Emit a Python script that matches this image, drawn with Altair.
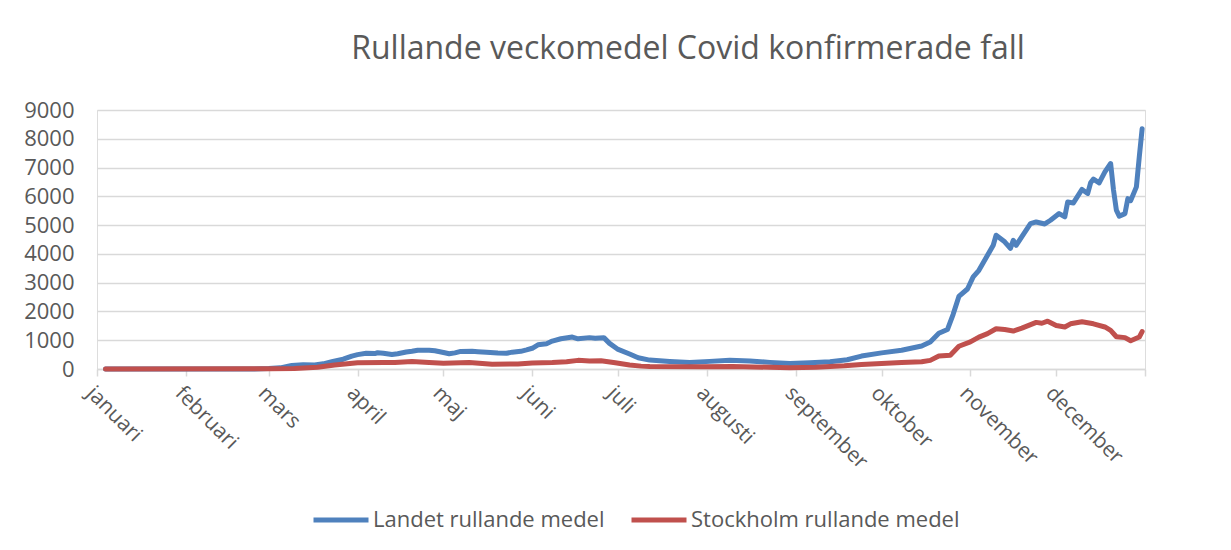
import altair as alt
import pandas as pd

# ---- data ----
months = ["januari", "februari", "mars", "april", "maj", "juni", "juli",
          "augusti", "september", "oktober", "november", "december"]

series_names = ["Landet rullande medel", "Stockholm rullande medel"]
series_colors = ["#4F81BD", "#C0504D"]

landet_dates = [
    "2020-01-04", "2020-02-01", "2020-02-25", "2020-03-01", "2020-03-05", "2020-03-09",
    "2020-03-13", "2020-03-17", "2020-03-20", "2020-03-23", "2020-03-27", "2020-03-30",
    "2020-04-01", "2020-04-04", "2020-04-07", "2020-04-08", "2020-04-10", "2020-04-13",
    "2020-04-15", "2020-04-18", "2020-04-20", "2020-04-22", "2020-04-26", "2020-04-28",
    "2020-05-01", "2020-05-03", "2020-05-05", "2020-05-07", "2020-05-11", "2020-05-13",
    "2020-05-16", "2020-05-20", "2020-05-23", "2020-05-25", "2020-05-28", "2020-05-30",
    "2020-06-01", "2020-06-03", "2020-06-06", "2020-06-08", "2020-06-11", "2020-06-15",
    "2020-06-17", "2020-06-21", "2020-06-23", "2020-06-26", "2020-06-28", "2020-07-01",
    "2020-07-05", "2020-07-08", "2020-07-12", "2020-07-19", "2020-07-26", "2020-08-02",
    "2020-08-09", "2020-08-16", "2020-08-23", "2020-08-30", "2020-09-06", "2020-09-13",
    "2020-09-19", "2020-09-24", "2020-10-01", "2020-10-08", "2020-10-15", "2020-10-18",
    "2020-10-21", "2020-10-24", "2020-10-26", "2020-10-28", "2020-10-31", "2020-11-02",
    "2020-11-04", "2020-11-07", "2020-11-09", "2020-11-10", "2020-11-13", "2020-11-15",
    "2020-11-16", "2020-11-17", "2020-11-22", "2020-11-24", "2020-11-27", "2020-11-29",
    "2020-12-02", "2020-12-04", "2020-12-05", "2020-12-07", "2020-12-10", "2020-12-12",
    "2020-12-13", "2020-12-14", "2020-12-16", "2020-12-18", "2020-12-20", "2020-12-21",
    "2020-12-22", "2020-12-23", "2020-12-25", "2020-12-26", "2020-12-27", "2020-12-29",
    "2020-12-30", "2020-12-31",
]
landet_values = [
    0, 0, 2, 15, 40, 120,
    145, 140, 180, 250, 340, 450,
    500, 545, 535, 565, 550, 505,
    530, 590, 615, 650, 655, 635,
    575, 530, 560, 610, 615, 600,
    580, 555, 545, 585, 615, 665,
    720, 840, 880, 970, 1050, 1110,
    1050, 1090, 1070, 1090, 890, 680,
    520, 390, 310, 260, 225, 265,
    300, 280, 230, 195, 215, 250,
    320, 450, 560, 650, 800, 940,
    1240, 1370, 1900, 2520, 2780, 3200,
    3430, 3950, 4300, 4650, 4420, 4190,
    4470, 4300, 5050, 5110, 5040, 5170,
    5400, 5290, 5800, 5770, 6240, 6100,
    6470, 6600, 6470, 6850, 7140, 6220,
    5520, 5310, 5400, 5920, 5850, 6330,
    7370, 8350,
]

stockholm_dates = [
    "2020-01-04", "2020-03-01", "2020-03-10", "2020-03-18", "2020-03-24", "2020-04-01",
    "2020-04-10", "2020-04-14", "2020-04-20", "2020-04-26", "2020-05-01", "2020-05-10",
    "2020-05-18", "2020-05-27", "2020-06-01", "2020-06-08", "2020-06-13", "2020-06-17",
    "2020-06-21", "2020-06-25", "2020-06-30", "2020-07-05", "2020-07-09", "2020-07-12",
    "2020-07-30", "2020-08-10", "2020-08-23", "2020-08-30", "2020-09-08", "2020-09-18",
    "2020-09-24", "2020-10-01", "2020-10-08", "2020-10-15", "2020-10-18", "2020-10-21",
    "2020-10-25", "2020-10-28", "2020-11-01", "2020-11-04", "2020-11-07", "2020-11-10",
    "2020-11-13", "2020-11-16", "2020-11-19", "2020-11-24", "2020-11-26", "2020-11-28",
    "2020-12-01", "2020-12-04", "2020-12-06", "2020-12-10", "2020-12-14", "2020-12-18",
    "2020-12-20", "2020-12-22", "2020-12-25", "2020-12-27", "2020-12-30", "2020-12-31",
]
stockholm_values = [
    0, 5, 20, 60, 140, 215,
    230, 225, 260, 230, 200, 225,
    165, 175, 210, 225, 250, 300,
    275, 285, 215, 140, 100, 85,
    80, 90, 60, 40, 60, 110,
    160, 195, 225, 250, 300, 450,
    480, 790, 940, 1110, 1230, 1400,
    1370, 1320, 1420, 1620, 1590, 1660,
    1510, 1460, 1570, 1640, 1570, 1460,
    1340, 1120, 1090, 980, 1110, 1300,
]

y_ticks = [0, 1000, 2000, 3000, 4000, 5000, 6000, 7000, 8000, 9000]

# ---- build table ----
df = pd.concat([
    pd.DataFrame({"datum": landet_dates, "fall": landet_values, "serie": series_names[0]}),
    pd.DataFrame({"datum": stockholm_dates, "fall": stockholm_values, "serie": series_names[1]}),
], ignore_index=True)

FONT = "Open Sans"
GREY = "#595959"
GRID = "#D9D9D9"

month_starts = [alt.DateTime(year=2020, month=m, date=1, utc=True) for m in range(1, 13)] + \
               [alt.DateTime(year=2021, month=1, date=1, utc=True)]
label_expr = "utcyear(datum.value) > 2020 ? '' : " + str(months) + "[utcmonth(datum.value)]"

chart = alt.Chart(df).mark_line(strokeWidth=5, strokeCap="round", strokeJoin="round").encode(
    x=alt.X(
        "datum:T",
        scale=alt.Scale(type="utc",
                        domain=[alt.DateTime(year=2020, month=1, date=1, utc=True),
                                alt.DateTime(year=2021, month=1, date=1, utc=True)]),
        axis=alt.Axis(
            title=None, values=month_starts, labelExpr=label_expr,
            labelAngle=45, labelAlign="left", labelBaseline="top",
            labelFont=FONT, labelFontSize=21, labelColor=GREY,
            labelPadding=6, labelOverlap=False, labelBound=False, labelFlush=False,
            grid=False, domainColor=GRID, domainWidth=1.5,
            tickColor=GRID, tickWidth=1.5, tickSize=7,
        ),
    ),
    y=alt.Y(
        "fall:Q",
        scale=alt.Scale(domain=[0, 9000], nice=False),
        axis=alt.Axis(
            title=None, values=y_ticks, format="d",
            labelFont=FONT, labelFontSize=22, labelColor=GREY, labelPadding=23,
            domain=False, ticks=False, grid=True, gridColor=GRID, gridWidth=1.4,
        ),
    ),
    color=alt.Color(
        "serie:N",
        scale=alt.Scale(domain=series_names, range=series_colors),
        legend=alt.Legend(
            title=None, orient="none", direction="horizontal",
            legendX=214, legendY=380,
            symbolType="stroke", symbolSize=3025, symbolStrokeWidth=5,
            labelFont=FONT, labelFontSize=22, labelColor=GREY, labelOffset=2,
            labelLimit=0, columnPadding=16,
        ),
    ),
).properties(
    width=1048,
    height=259,
    title=alt.TitleParams(
        text="Rullande veckomedel Covid konfirmerade fall",
        font=FONT, fontSize=32, fontWeight="normal", color=GREY,
        anchor="middle", dx=67, offset=33,
    ),
    autosize=alt.AutoSizeParams(type="none"),
    padding={"left": 89, "top": 102, "right": 70, "bottom": 170},
).configure_view(stroke=None).configure(background="white")

chart.save("out.html", embed_options={"renderer": "svg", "actions": False})
